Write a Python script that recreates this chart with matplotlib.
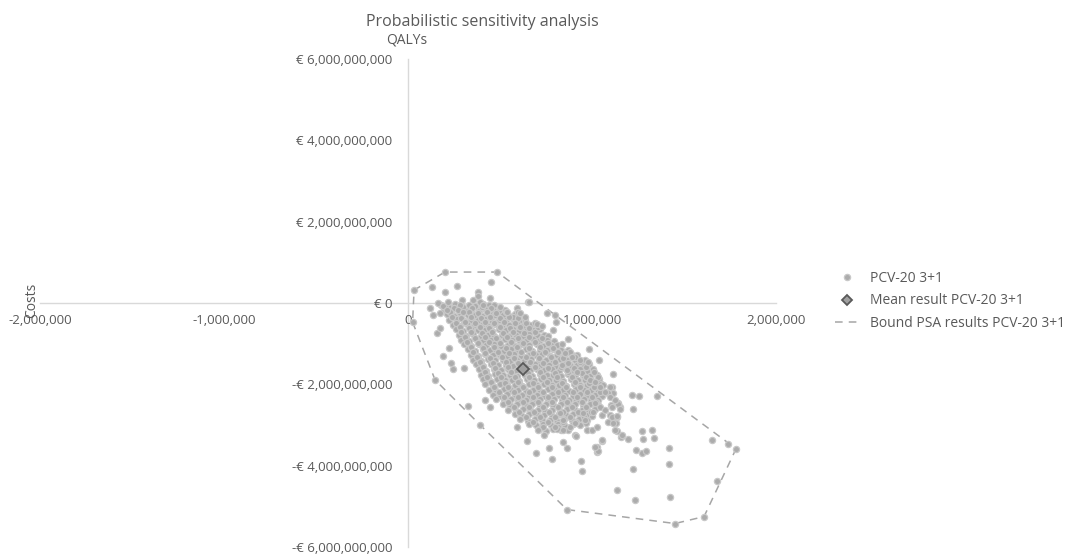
import numpy as np
import matplotlib
matplotlib.use("Agg")
import matplotlib.pyplot as plt
from matplotlib.ticker import FuncFormatter, FixedLocator
from matplotlib.lines import Line2D

plt.rcParams["font.family"] = ["Open Sans", "DejaVu Sans"]

# PSA iterations: (incremental QALYs in thousands, incremental costs in EUR millions)
psa_core = [
    (180, -40), (215, -70), (255, -30), (290, -60), (330, -45), (365, -75), (405, -35), (440, -60), (470, -40),
    (195, -160), (235, -190), (270, -150), (310, -180), (345, -165), (385, -195), (420, -155), (460, -175),
    (495, -190), (525, -160),
    (210, -280), (250, -310), (290, -270), (325, -300), (365, -285), (400, -315), (440, -275), (475, -300),
    (515, -290), (550, -310), (580, -275),
    (225, -430), (265, -400), (305, -440), (340, -410), (380, -425), (420, -395), (455, -445), (495, -415),
    (530, -430), (570, -400), (605, -440), (635, -415),
    (245, -530), (285, -560), (320, -520), (360, -550), (400, -535), (435, -565), (475, -525), (510, -555),
    (550, -540), (590, -520), (625, -560), (665, -535),
    (260, -650), (300, -680), (340, -645), (380, -675), (415, -655), (455, -690), (495, -650), (530, -670),
    (570, -640), (605, -680), (645, -655), (680, -675), (715, -650),
    (275, -780), (315, -805), (355, -770), (395, -800), (435, -785), (470, -815), (510, -775), (550, -800),
    (585, -780), (625, -810), (660, -770), (700, -795), (740, -785), (760, -805),
    (290, -900), (330, -930), (370, -890), (410, -925), (450, -905), (490, -935), (525, -895), (565, -920),
    (605, -900), (640, -930), (680, -895), (720, -915), (755, -900), (795, -925),
    (305, -1010), (345, -1060), (385, -1020), (425, -1045), (465, -1015), (505, -1050), (545, -1025),
    (580, -1055), (620, -1015), (660, -1040), (700, -1020), (735, -1050), (775, -1025), (810, -1045),
    (835, -1020),
    (325, -1140), (365, -1170), (405, -1135), (445, -1165), (480, -1145), (520, -1175), (560, -1140),
    (600, -1160), (640, -1130), (675, -1170), (715, -1145), (755, -1165), (790, -1140), (830, -1160),
    (870, -1150),
    (340, -1270), (380, -1300), (420, -1260), (460, -1290), (500, -1275), (540, -1305), (575, -1265),
    (615, -1295), (655, -1270), (695, -1290), (730, -1260), (770, -1300), (810, -1275), (850, -1295),
    (885, -1265), (920, -1290),
    (355, -1390), (395, -1420), (435, -1385), (475, -1410), (515, -1395), (555, -1425), (595, -1390),
    (630, -1415), (670, -1380), (710, -1410), (750, -1395), (790, -1420), (825, -1385), (865, -1410),
    (905, -1395), (940, -1420), (960, -1390),
    (370, -1510), (410, -1540), (450, -1505), (490, -1530), (530, -1515), (570, -1545), (610, -1510),
    (650, -1535), (690, -1500), (725, -1530), (765, -1515), (805, -1540), (845, -1505), (880, -1530),
    (920, -1515), (955, -1540), (985, -1510),
    (385, -1630), (425, -1660), (465, -1625), (505, -1650), (545, -1635), (585, -1665), (625, -1630),
    (665, -1655), (700, -1620), (740, -1650), (780, -1635), (820, -1660), (860, -1625), (895, -1650),
    (935, -1635), (975, -1660), (1005, -1630),
    (395, -1760), (435, -1790), (475, -1755), (515, -1780), (555, -1765), (595, -1795), (635, -1760),
    (675, -1785), (715, -1750), (755, -1780), (790, -1765), (830, -1790), (870, -1755), (910, -1780),
    (950, -1765), (990, -1790), (1025, -1760),
    (405, -1880), (445, -1910), (485, -1875), (525, -1900), (565, -1885), (605, -1915), (645, -1880),
    (685, -1905), (725, -1870), (765, -1900), (805, -1885), (845, -1910), (885, -1875), (925, -1900),
    (960, -1885), (1000, -1910), (1040, -1880),
    (420, -2000), (460, -2030), (500, -1995), (540, -2020), (580, -2005), (620, -2035), (660, -2000),
    (700, -2025), (740, -1990), (780, -2020), (820, -2005), (860, -2030), (900, -1995), (935, -2020),
    (975, -2005), (1015, -2030), (1050, -2000),
    (440, -2130), (480, -2160), (520, -2125), (560, -2150), (600, -2135), (640, -2165), (680, -2130),
    (720, -2155), (760, -2120), (800, -2150), (840, -2135), (875, -2160), (915, -2125), (955, -2150),
    (995, -2135), (1035, -2160),
    (460, -2250), (500, -2280), (540, -2245), (580, -2270), (620, -2255), (660, -2285), (700, -2250),
    (740, -2275), (780, -2240), (820, -2270), (855, -2255), (895, -2280), (935, -2245), (975, -2270),
    (1015, -2255), (1055, -2280),
    (480, -2370), (520, -2400), (560, -2365), (600, -2390), (640, -2375), (680, -2405), (720, -2370),
    (760, -2395), (795, -2360), (835, -2390), (875, -2375), (915, -2400), (955, -2365), (995, -2390),
    (1035, -2375),
    (515, -2490), (555, -2520), (595, -2485), (635, -2510), (675, -2495), (715, -2525), (750, -2490),
    (790, -2515), (830, -2480), (870, -2510), (910, -2495), (950, -2520), (990, -2485), (1030, -2510),
    (545, -2620), (585, -2650), (625, -2615), (665, -2640), (705, -2625), (745, -2655), (785, -2620),
    (825, -2645), (865, -2610), (905, -2640), (945, -2625), (980, -2650), (1015, -2615),
    (580, -2740), (620, -2770), (660, -2735), (700, -2760), (740, -2745), (780, -2775), (820, -2740),
    (860, -2765), (895, -2730), (935, -2760), (975, -2745), (1000, -2770),
    (610, -2860), (650, -2890), (690, -2855), (730, -2880), (770, -2865), (810, -2895), (850, -2860),
    (890, -2885), (930, -2850), (975, -2880),
    (655, -2980), (695, -3010), (735, -2975), (775, -3000), (815, -2985), (855, -3015), (895, -2980),
    (935, -3005),
    (710, -3110), (750, -3140), (790, -3105), (830, -3130), (870, -3115),
]

# second layer sitting between the rows of the dense band
psa_core_fill = [
    (200, -110), (250, -120), (300, -100), (350, -125), (400, -105), (450, -120), (500, -100),
    (230, -230), (280, -245), (330, -225), (380, -250), (430, -230), (480, -240), (530, -225), (570, -345),
    (240, -355), (290, -360), (345, -350), (395, -365), (445, -345), (500, -360), (550, -350), (600, -370),
    (260, -480), (310, -470), (365, -490), (420, -475), (470, -490), (520, -470), (580, -485), (640, -480),
    (280, -600), (330, -610), (390, -595), (440, -615), (500, -600), (555, -610), (610, -595), (660, -610),
    (290, -725), (345, -720), (400, -735), (455, -720), (515, -740), (570, -720), (630, -735), (690, -725),
    (310, -845), (365, -855), (420, -840), (480, -860), (540, -845), (600, -855), (660, -840), (730, -855),
    (320, -965), (380, -975), (440, -960), (500, -980), (560, -965), (625, -975), (690, -960), (760, -975),
    (345, -1090), (405, -1100), (470, -1085), (530, -1105), (595, -1090), (660, -1100), (720, -1085),
    (790, -1095),
    (355, -1210), (420, -1220), (490, -1205), (550, -1225), (615, -1210), (680, -1220), (745, -1205),
    (815, -1215), (880, -1210),
    (375, -1335), (445, -1345), (510, -1330), (575, -1350), (640, -1335), (710, -1345), (775, -1330),
    (840, -1350), (905, -1335),
    (390, -1455), (460, -1465), (530, -1450), (600, -1470), (665, -1455), (735, -1465), (800, -1450),
    (870, -1470), (935, -1455),
    (405, -1575), (475, -1590), (545, -1575), (615, -1590), (690, -1575), (760, -1590), (830, -1575),
    (900, -1590), (965, -1575),
    (420, -1700), (490, -1710), (560, -1695), (650, -1710), (720, -1695), (800, -1710), (870, -1695),
    (945, -1710), (1010, -1700),
    (430, -1820), (505, -1830), (580, -1815), (655, -1830), (735, -1815), (810, -1830), (890, -1815),
    (965, -1830), (1030, -1820),
    (450, -1945), (525, -1955), (600, -1940), (680, -1955), (755, -1940), (835, -1955), (910, -1940),
    (985, -1955),
    (470, -2065), (545, -2075), (625, -2060), (705, -2075), (780, -2060), (860, -2075), (935, -2060),
    (1010, -2075),
    (495, -2190), (575, -2200), (655, -2185), (735, -2200), (815, -2185), (895, -2200), (975, -2185),
    (1045, -2200),
    (520, -2310), (600, -2320), (680, -2305), (760, -2320), (840, -2305), (920, -2320), (1000, -2305),
    (545, -2435), (625, -2445), (705, -2430), (785, -2445), (865, -2430), (945, -2445), (1020, -2430),
    (575, -2555), (655, -2565), (735, -2550), (815, -2565), (890, -2550), (970, -2565),
    (605, -2680), (685, -2690), (765, -2675), (845, -2690), (925, -2675), (995, -2690),
    (640, -2805), (720, -2815), (800, -2800), (880, -2815), (955, -2800),
    (680, -2925), (760, -2935), (840, -2920), (915, -2935),
    (735, -3050), (815, -3060), (880, -3050),
]

psa_outer = [
    (33, 319), (201, 761), (484, 761), (130, 393), (266, 417), (451, 515), (201, 270), (380, 270),
    (380, 172), (446, 123), (652, 25), (538, -221), (592, -123), (598, -221), (755, -245), (799, -294),
    (804, -466), (690, -491), (707, -589), (788, -663), (870, -883), (984, -1129), (1038, -1399),
    (120, -123), (136, -294), (174, -245), (163, 0), (190, -74), (217, 25), (212, -172),
    (293, 74), (283, -49), (272, -172), (299, -221), (158, -736), (174, -614), (223, -1104),
    (190, -1301), (234, -1472), (245, -1620), (304, -1595), (147, -1890), (353, 74), (391, 25),
    (408, -49), (658, 25), (609, -245), (636, -344), (701, -515), (728, -564), (853, -1227),
    (891, -1325), (837, -1521), (864, -1644), (918, -1693), (935, -1399), (978, -1448), (25, -470),
    (326, -2528), (391, -2994), (446, -2552), (418, -2380), (592, -3043), (647, -3387), (696, -3681),
    (707, -3117), (739, -3239), (766, -3558), (783, -3828), (810, -3092), (842, -3411), (864, -3558),
    (864, -5080), (908, -3239), (940, -3877), (946, -4123), (1027, -3534), (1027, -3656),
    (1217, -2258), (1256, -2282), (1353, -2282), (1223, -2601), (1272, -3141), (1326, -3117),
    (1277, -3337), (1337, -3313), (1196, -3337), (1158, -3288), (1136, -3141), (1239, -3607),
    (1272, -3681), (1294, -3632), (1419, -3558), (1419, -3951), (1223, -4074), (1136, -4589),
    (1234, -4834), (1424, -4761), (1451, -5423), (1609, -5252), (1679, -4368), (1652, -3362),
    (1739, -3460), (1783, -3583), (1033, -3632), (1054, -3387), (913, -3264), (842, -3117),
    (973, -3117), (1000, -3117), (967, -2945), (1027, -3043), (1087, -2920), (1130, -2945),
    (1163, -3239), (1136, -2798), (1098, -2748), (1152, -2552), (1141, -2454), (1103, -2503),
    (1109, -2061), (1092, -2209), (1043, -2552), (1054, -2748), (1005, -2675), (951, -2699),
    (962, -2871), (908, -2945), (842, -2871), (826, -2699), (799, -3043), (1114, -1742),
    (1060, -2012), (1098, -2061), (1114, -2209), (1087, -2209), (1141, -2478), (1152, -2601),
    (1109, -2552), (1071, -2626), (1109, -2798), (1136, -2773), (1114, -2945), (1125, -3117),
    (1054, -3362), (1016, -3534), (989, -1890), (1016, -1939), (1043, -2061), (1071, -2184),
    (1098, -2307), (1125, -2380), (1016, -2454),
]

mean_qaly_k = 625
mean_cost_m = -1620

label_psa = "PCV-20 3+1"
label_mean = "Mean result PCV-20 3+1"
label_bound = "Bound PSA results PCV-20 3+1"

x_ticks = [-2_000_000, -1_000_000, 0, 1_000_000, 2_000_000]
y_ticks = [-6e9, -4e9, -2e9, 0, 2e9, 4e9, 6e9]

TEXT = "#595959"
AXIS = "#d9d9d9"
DOT = "#acacac"
DOT_EDGE = "#c8c8c8"


def convex_hull(points):
    pts = sorted(set(points))

    def cross(o, a, b):
        return (a[0] - o[0]) * (b[1] - o[1]) - (a[1] - o[1]) * (b[0] - o[0])

    lower, upper = [], []
    for p in pts:
        while len(lower) >= 2 and cross(lower[-2], lower[-1], p) <= 0:
            lower.pop()
        lower.append(p)
    for p in reversed(pts):
        while len(upper) >= 2 and cross(upper[-2], upper[-1], p) <= 0:
            upper.pop()
        upper.append(p)
    hull = lower[:-1] + upper[:-1]
    return hull + [hull[0]]


pts = np.array(psa_core + psa_core_fill + psa_outer, dtype=float)
qalys = pts[:, 0] * 1e3
costs = pts[:, 1] * 1e6
hull = np.array(convex_hull([tuple(p) for p in zip(qalys, costs)]))

fig = plt.figure(figsize=(10.67, 5.54), dpi=100)
ax = fig.add_axes([40 / 1067, 7 / 554, 736 / 1067, 488 / 554])

ax.scatter(qalys, costs, s=20, facecolor=DOT, edgecolor=DOT_EDGE,
           linewidth=0.9, zorder=3)
ax.plot(hull[:, 0], hull[:, 1], color="#a6a6a6", linewidth=1.1,
        linestyle=(0, (5, 4)), zorder=2)
ax.plot([mean_qaly_k * 1e3], [mean_cost_m * 1e6], marker="D", markersize=6,
        markerfacecolor="#a0a0a0", markeredgecolor="#595959", markeredgewidth=1.3,
        linestyle="none", zorder=4)

ax.set_xlim(-2e6, 2e6)
ax.set_ylim(-6e9, 6e9)

for side in ("top", "right"):
    ax.spines[side].set_visible(False)
for side in ("left", "bottom"):
    ax.spines[side].set_position(("data", 0))
    ax.spines[side].set_color(AXIS)
    ax.spines[side].set_linewidth(1.0)
    ax.spines[side].set_zorder(1)

ax.xaxis.set_major_locator(FixedLocator(x_ticks))
ax.yaxis.set_major_locator(FixedLocator(y_ticks))
ax.xaxis.set_major_formatter(FuncFormatter(lambda v, _: f"{v:,.0f}".replace("\u2212", "-")))


def euro(v, _):
    if v == 0:
        return "€ 0"
    sign = "-" if v < 0 else ""
    return f"{sign}€ {abs(v):,.0f}"


ax.yaxis.set_major_formatter(FuncFormatter(euro))
ax.tick_params(axis="x", length=0, pad=8, labelsize=9.5, labelcolor=TEXT)
ax.tick_params(axis="y", length=0, pad=11.5, labelsize=9.5, labelcolor=TEXT)
ax.patch.set_alpha(0)

fig.text(482 / 1067, 1 - 22 / 554, "Probabilistic sensitivity analysis",
         ha="center", va="center", fontsize=11.5, color=TEXT)
fig.text(407 / 1067, 1 - 40 / 554, "QALYs", ha="center", va="center",
         fontsize=10, color=TEXT)
fig.text(32 / 1067, 1 - 300 / 554, "Costs", ha="center", va="center",
         rotation=90, fontsize=10, color=TEXT)

handles = [
    Line2D([], [], marker="o", markersize=4.5, linestyle="none",
           markerfacecolor=DOT, markeredgecolor=DOT_EDGE, markeredgewidth=0.9),
    Line2D([], [], marker="D", markersize=5.5, linestyle="none",
           markerfacecolor="#a0a0a0", markeredgecolor="#595959", markeredgewidth=1.3),
    Line2D([], [], color="#a6a6a6", linewidth=1.1, linestyle=(0, (5, 4))),
]
fig.legend(handles, [label_psa, label_mean, label_bound], loc="center left",
           bbox_to_anchor=(835 / 1067, 1 - 301 / 554), frameon=False,
           fontsize=10, labelcolor=TEXT, handlelength=1.7, handletextpad=0.8,
           labelspacing=0.55, borderpad=0, borderaxespad=0)

fig.savefig("out.png", dpi=100)
